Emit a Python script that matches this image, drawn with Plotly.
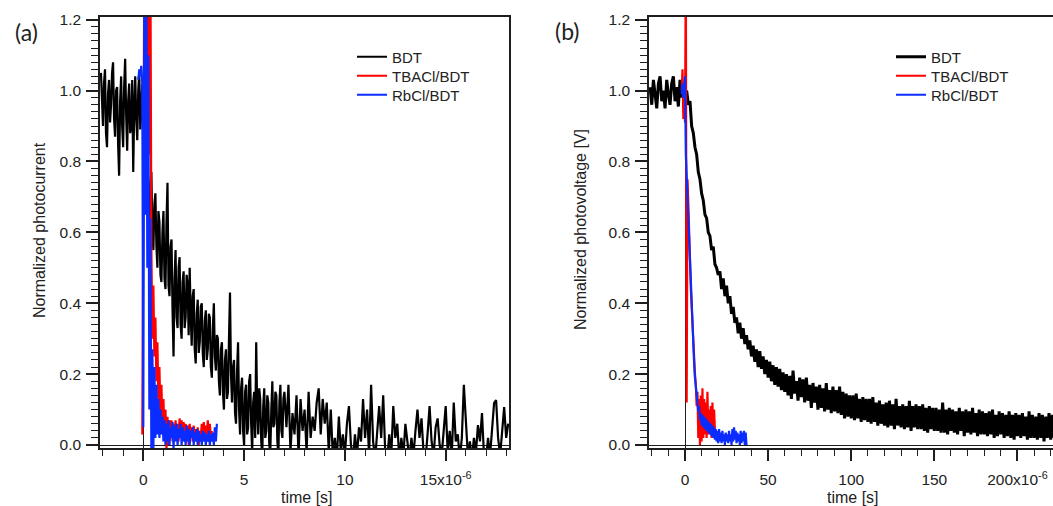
import plotly.graph_objects as go

W, H = 1053, 506

# ---------------- data (time in microseconds; axis labelled "x10^-6" s) ----------------
# Panel (a): normalized photocurrent
# BDT: dense sampling (0.05 us) up to 7 us, then 0.1 us
a_bdt_early_t0, a_bdt_early_dt = -2.1, 0.05
a_bdt_early = [
    1.05, 0.93, 0.90, 1.02, 1.06, 0.88, 0.84, 0.99, 1.03, 0.91,
    0.96, 1.05, 1.08, 0.92, 0.87, 1.00, 1.01, 0.85, 0.76, 0.97,
    1.04, 0.90, 0.84, 1.01, 1.09, 0.93, 0.83, 0.97, 1.02, 0.88,
    0.90, 1.03, 0.77, 0.95, 1.04, 0.92, 0.86, 1.00, 1.05, 0.89,
    0.97, 1.02, 0.85, 0.78, 0.70, 0.80, 0.83, 0.68, 0.62, 0.74,
    0.77, 0.60, 0.55, 0.68, 0.71, 0.56, 0.50, 0.66, 0.63, 0.48,
    0.46, 0.60, 0.66, 0.47, 0.44, 0.63, 0.74, 0.45, 0.42, 0.56,
    0.58, 0.38, 0.25, 0.47, 0.55, 0.36, 0.33, 0.50, 0.53, 0.34,
    0.30, 0.46, 0.49, 0.33, 0.36, 0.48, 0.45, 0.31, 0.50, 0.37,
    0.28, 0.42, 0.44, 0.27, 0.23, 0.37, 0.41, 0.26, 0.29, 0.39,
    0.40, 0.26, 0.22, 0.35, 0.38, 0.24, 0.27, 0.37, 0.36, 0.22,
    0.19, 0.33, 0.40, 0.25, 0.21, 0.31, 0.30, 0.18, 0.14, 0.27,
    0.29, 0.15, 0.10, 0.24, 0.27, 0.13, 0.15, 0.30, 0.43, 0.20,
    0.12, 0.22, 0.24, 0.09, 0.06, 0.21, 0.29, 0.10, 0.03, 0.16,
    0.19, 0.04, 0.00, 0.15, 0.17, 0.03, 0.05, 0.18, 0.20, 0.06,
    -0.02, 0.12, 0.15, 0.02, 0.29, 0.10, 0.03, 0.16, 0.13, 0.01,
    -0.03, 0.11, 0.16, 0.02, 0.04, 0.14, 0.12, 0.00, -0.02, 0.10,
    0.18, 0.05, 0.06, 0.15, 0.14, 0.01, -0.03, 0.12, 0.17, 0.04,
    0.02, 0.13, 0.15,
]
a_bdt_late_t0, a_bdt_late_dt = 7.1, 0.1
a_bdt_late = [
    0.05, 0.17, -0.02, 0.09, 0.03, 0.14, -0.03, 0.13,
    0.04, 0.10, -0.02, 0.15, 0.02, 0.08, 0.04, 0.12, 0.16, 0.03,
    0.13, 0.06, 0.12, -0.02, 0.10, -0.03, 0.02, -0.04, 0.08, -0.02,
    0.03, -0.03, 0.06, 0.11, 0.00, -0.04, 0.03, -0.03, 0.05, 0.01,
    0.13, 0.02, 0.10, -0.03, 0.17, 0.01, -0.04, 0.04, 0.11, 0.02,
    0.14, -0.02, -0.04, 0.03, -0.03, 0.11, 0.02, 0.06, -0.04, 0.02,
    -0.03, 0.06, 0.01, -0.04, 0.02, -0.03, 0.04, 0.10, 0.02, 0.075,
    -0.02, -0.04, 0.03, 0.11, 0.01, -0.03, 0.05, 0.075, 0.00, -0.03,
    0.04, 0.11, -0.02, 0.04, -0.03, 0.12, 0.01, 0.03, -0.04, 0.02,
    0.17, 0.06, -0.03, 0.01, -0.04, 0.02, -0.02, 0.056, 0.01, 0.09,
    -0.03, -0.04, 0.02, -0.03, 0.04, 0.118, 0.127, 0.02, -0.03, 0.03,
    0.107, 0.02, 0.06,
]
a_tba_t0, a_tba_dt = -0.05, 0.05
a_tba = [
    0.03, 0.64, 1.35, 1.30, 0.98, 1.40, 1.30, 0.82, 1.40, 0.55,
    0.30, 0.45, 0.25, 0.36, 0.18, 0.29, 0.12, 0.22, 0.08, 0.17,
    0.05, 0.13, 0.02, 0.10, -0.01, 0.08, 0.00, 0.07, 0.02, 0.07,
    0.01, 0.06, 0.03, 0.07, 0.02, 0.06, 0.01, 0.075, 0.03, 0.07,
    0.02, 0.065, 0.01, 0.06, 0.03, 0.055, 0.00, 0.06, 0.02, 0.05,
    0.01, 0.055, 0.02, 0.045, 0.01, 0.05, 0.00, 0.04, 0.02, 0.06,
    0.01, 0.065, 0.02, 0.055, 0.03, 0.07, 0.01, 0.06, 0.02, 0.04,
]
a_rbc_t0, a_rbc_dt = -0.25, 0.05
a_rbc = [
    1.03, 1.06, 1.04, 1.07, 1.02,
    0.05, 1.30, 0.65, 1.30, 0.50, 1.10, 0.10, 0.64, -0.02, 0.27,
    -0.01, 0.22, 0.02, 0.17, 0.03, 0.13, 0.02, 0.10, 0.03, 0.08,
    0.01, 0.07, 0.00, 0.06, 0.01, 0.07, 0.00, 0.05, 0.02, 0.065,
    -0.01, 0.055, 0.01, 0.06, 0.00, 0.045, 0.02, 0.06, 0.00, 0.05,
    0.01, 0.04, 0.00, 0.055, 0.01, 0.045, 0.00, 0.04, 0.02, 0.05,
    0.00, 0.035, 0.01, 0.045, 0.00, 0.04, 0.01, 0.03, 0.00, 0.04,
    0.01, 0.035, 0.00, 0.03, 0.01, 0.04, 0.00, 0.03, 0.01, 0.035,
    0.00, 0.05, 0.01, 0.06,
]

# Panel (b): normalized photovoltage
b_bdt_t0, b_bdt_dt = -21.0, 1.0
b_bdt = [
    1.01, 0.96, 1.03, 0.98, 0.95, 1.02, 1.04, 0.97, 1.00, 0.95, 1.03,
    0.99, 0.96, 1.02, 1.04, 0.97, 1.01, 0.955, 1.03, 0.98, 1.02, 0.99,
    1.00, 0.96, 0.97, 0.90, 0.88, 0.84, 0.82, 0.77, 0.75, 0.71,
    0.69, 0.65, 0.64, 0.60, 0.59, 0.55, 0.56, 0.51, 0.50, 0.48,
    0.49, 0.44, 0.47, 0.42, 0.45, 0.40, 0.42, 0.37, 0.39, 0.345,
    0.36, 0.315, 0.345, 0.30, 0.33, 0.285, 0.31, 0.27, 0.295, 0.25,
    0.28, 0.235, 0.27, 0.22, 0.265, 0.215, 0.25, 0.20, 0.24, 0.19,
    0.235, 0.18, 0.225, 0.17, 0.22, 0.165, 0.215, 0.155, 0.205, 0.15,
    0.20, 0.14, 0.195, 0.13, 0.21, 0.145, 0.18, 0.125, 0.19, 0.135,
    0.185, 0.12, 0.19, 0.125, 0.17, 0.105, 0.175, 0.12, 0.165, 0.10,
    0.17, 0.105, 0.16, 0.095, 0.175, 0.10, 0.155, 0.09, 0.165, 0.095,
    0.155, 0.09, 0.165, 0.085, 0.15, 0.075, 0.145, 0.08, 0.14, 0.075,
    0.14, 0.07, 0.145, 0.075, 0.13, 0.065, 0.135, 0.07, 0.13, 0.065,
    0.13, 0.06, 0.135, 0.065, 0.12, 0.055, 0.125, 0.06, 0.115, 0.055,
    0.12, 0.05, 0.125, 0.055, 0.115, 0.045, 0.13, 0.055, 0.11, 0.05,
    0.115, 0.045, 0.11, 0.05, 0.125, 0.04, 0.11, 0.05, 0.115, 0.045,
    0.11, 0.045, 0.115, 0.04, 0.105, 0.035, 0.11, 0.045, 0.105, 0.04,
    0.105, 0.04, 0.10, 0.035, 0.12, 0.035, 0.10, 0.03, 0.105, 0.04,
    0.10, 0.035, 0.095, 0.03, 0.105, 0.04, 0.095, 0.025, 0.10, 0.035,
    0.095, 0.03, 0.105, 0.035, 0.09, 0.025, 0.10, 0.03, 0.095, 0.03,
    0.09, 0.025, 0.095, 0.03, 0.10, 0.02, 0.085, 0.025, 0.095, 0.03,
    0.09, 0.02, 0.085, 0.025, 0.095, 0.02, 0.085, 0.015, 0.09, 0.025,
    0.085, 0.02, 0.09, 0.025, 0.08, 0.015, 0.095, 0.02, 0.085, 0.02,
    0.08, 0.015, 0.09, 0.02, 0.085, 0.01, 0.08, 0.02, 0.09, 0.015,
    0.085, 0.02,
]
b_tba_t0, b_tba_dt = -2.0, 0.5
b_tba = [
    1.00, 1.06, 0.92, 1.02, 0.91, 1.35, 0.12, 0.75, 0.68, 0.58,
    0.52, 0.44, 0.39, 0.33, 0.28, 0.24, 0.20, 0.17, 0.11, 0.15,
    0.02, 0.13, 0.00, 0.14, 0.01, 0.16, 0.02, 0.13, 0.03, 0.12,
    0.02, 0.15, 0.03, 0.10, 0.04, 0.11, 0.02, 0.12, 0.03, 0.10, 0.04,
]
b_rbc_t0, b_rbc_dt = -2.0, 0.5
b_rbc = [
    0.99, 1.02, 0.98, 1.01, 1.04, 0.82, 0.76, 0.68, 0.62, 0.55,
    0.49, 0.43, 0.37, 0.32, 0.27, 0.23, 0.19, 0.16, 0.13, 0.115,
    0.095, 0.11, 0.07, 0.09, 0.055, 0.085, 0.05, 0.08, 0.045, 0.075,
    0.04, 0.07, 0.035, 0.065, 0.03, 0.06, 0.025, 0.055, 0.02, 0.05,
    0.015, 0.045, 0.01, 0.04, 0.005, 0.045, 0.01, 0.035, 0.005, 0.04,
    0.01, 0.03, 0.00, 0.035, 0.01, 0.03, 0.005, 0.04, 0.01, 0.03,
    0.00, 0.045, 0.01, 0.05, 0.015, 0.04, 0.005, 0.035, 0.01, 0.03,
    0.00, 0.04, 0.005, 0.035, 0.01, 0.04, 0.00, 0.035, 0.00,
]

series_names = ["BDT", "TBACl/BDT", "RbCl/BDT"]
series_colors = ["#000000", "#ff0000", "#0a2cff"]
series_widths_a = [2.2, 2.2, 2.2]
series_widths_b = [3.0, 2.2, 2.2]

a_xtickvals = [0, 5, 10, 15]
a_xticktext = ["0", "5", "10", "15x10<sup>-6</sup>"]
b_xtickvals = [0, 50, 100, 150, 200]
b_xticktext = ["0", "50", "100", "150", "200x10<sup>-6</sup>"]
y_tickvals = [0.0, 0.2, 0.4, 0.6, 0.8, 1.0, 1.2]
y_ticktext = ["0.0", "0.2", "0.4", "0.6", "0.8", "1.0", "1.2"]


def times(t0, dt, vals):
    return [round(t0 + i * dt, 6) for i in range(len(vals))]


FONT = "Liberation Sans, Arial, sans-serif"
AX = "#1e1e1e"
TXT = "#222222"

fig = go.Figure()

a_bdt_x = times(a_bdt_early_t0, a_bdt_early_dt, a_bdt_early) + \
    times(a_bdt_late_t0, a_bdt_late_dt, a_bdt_late)
a_bdt_y = a_bdt_early + a_bdt_late

panel_a = [(a_bdt_x, a_bdt_y),
           (times(a_tba_t0, a_tba_dt, a_tba), a_tba),
           (times(a_rbc_t0, a_rbc_dt, a_rbc), a_rbc)]
panel_b = [(times(b_bdt_t0, b_bdt_dt, b_bdt), b_bdt),
           (times(b_tba_t0, b_tba_dt, b_tba), b_tba),
           (times(b_rbc_t0, b_rbc_dt, b_rbc), b_rbc)]

legend_ids_a = ["legend", "legend2", "legend3"]
legend_ids_b = ["legend4", "legend5", "legend6"]

for (xs, ys), name, col, lw, lid in zip(panel_a, series_names, series_colors,
                                        series_widths_a, legend_ids_a):
    fig.add_trace(go.Scatter(x=xs, y=ys, mode="lines", name=name,
                             line=dict(color=col, width=lw), xaxis="x", yaxis="y",
                             legend=lid))
for (xs, ys), name, col, lw, lid in zip(panel_b, series_names, series_colors,
                                        series_widths_b, legend_ids_b):
    fig.add_trace(go.Scatter(x=xs, y=ys, mode="lines", name=name,
                             line=dict(color=col, width=lw), xaxis="x2", yaxis="y2",
                             legend=lid))

ydom = [1 - 448 / H, 1 - 17 / H]
yrange = [-0.0084, 1.2076]
tickfont = dict(family=FONT, size=15.5, color=TXT)


def yax(anchor, mirror):
    return dict(domain=ydom, range=yrange, anchor=anchor, tickmode="array",
                tickvals=y_tickvals, ticktext=y_ticktext, ticks="outside", ticklen=12,
                tickwidth=1.5, tickcolor=AX, showline=True, linecolor=AX, linewidth=1.5,
                mirror=mirror, showgrid=False, zeroline=True, zerolinecolor=AX,
                zerolinewidth=1, tickfont=tickfont, ticklabelstandoff=2, automargin=False,
                minor=dict(ticks="outside", ticklen=7, tickwidth=1.2, tickcolor=AX,
                           tickmode="linear", tick0=0, dtick=0.02, showgrid=False))


def xax(domain, rng, vals, text, anchor, dminor):
    return dict(domain=domain, range=rng, anchor=anchor, tickmode="array",
                tickvals=vals, ticktext=text, ticks="outside", ticklen=11, tickwidth=1.5,
                tickcolor=AX, showline=True, linecolor=AX, linewidth=1.5, mirror=True,
                showgrid=False, zeroline=True, zerolinecolor=AX, zerolinewidth=1,
                tickfont=tickfont, ticklabelstandoff=6, automargin=False,
                minor=dict(ticks="outside", ticklen=6, tickwidth=1.2, tickcolor=AX,
                           tickmode="linear", tick0=0, dtick=dminor, showgrid=False))


leg_common = dict(xanchor="left", yanchor="middle", bgcolor="rgba(0,0,0,0)",
                  font=dict(family=FONT, size=15, color=TXT), itemwidth=30,
                  tracegroupgap=0)

legend_rows_py = [57, 76, 95]
legend_layout = {}
for lid, py in zip(legend_ids_a, legend_rows_py):
    legend_layout[lid] = dict(x=352 / W, y=1 - py / H, **leg_common)
for lid, py in zip(legend_ids_b, legend_rows_py):
    legend_layout[lid] = dict(x=891 / W, y=1 - py / H, **leg_common)


def ann(text, px, py, size=16, angle=0, family=FONT):
    return dict(text=text, x=px / W, y=1 - py / H, xref="paper", yref="paper",
                showarrow=False, xanchor="center", yanchor="middle", textangle=angle,
                font=dict(family=family, size=size, color=TXT))


fig.update_layout(
    width=W, height=H, autosize=False,
    margin=dict(l=0, r=0, t=0, b=0, autoexpand=False),
    paper_bgcolor="white", plot_bgcolor="white",
    xaxis=xax([100 / W, 509 / W], [-2.148, 18.14], a_xtickvals, a_xticktext, "y", 1),
    yaxis=yax("x", True),
    xaxis2=xax([649 / W, 1.0], [-21.66, 221.4], b_xtickvals, b_xticktext, "y2", 10),
    yaxis2=yax("x2", False),
    annotations=[
        ann("(a)", 26, 32, size=23, family="Lato, Liberation Sans, sans-serif"),
        ann("(b)", 567, 31, size=23, family="Lato, Liberation Sans, sans-serif"),
        ann("Normalized photocurrent", 39, 230, angle=-90),
        ann("Normalized photovoltage [V]", 580, 230, angle=-90),
        ann("time [s]", 307, 497),
        ann("time [s]", 853, 497),
    ],
    showlegend=True,
    **legend_layout,
)

fig.write_html(
    "out.html",
    config={"displayModeBar": False},
    post_script="document.body.style.margin='0px';document.body.style.overflow='hidden';",
)
